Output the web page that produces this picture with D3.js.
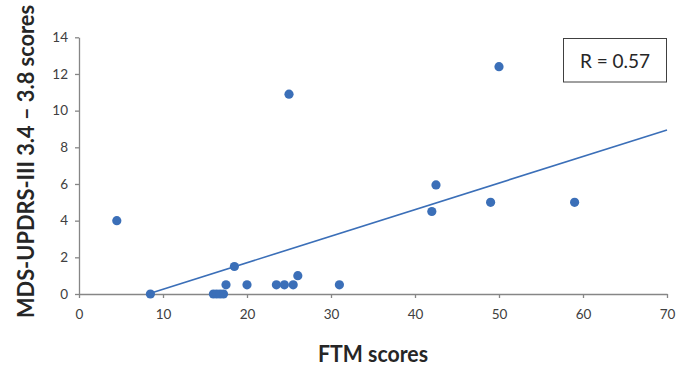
<!DOCTYPE html>
<html>
<head>
<meta charset="utf-8">
<script src="https://cdn.jsdelivr.net/npm/d3@7"></script>
<style>
  html, body { margin: 0; padding: 0; background: #fff; }
  svg { display: block; }
  text { font-family: Lato, "Open Sans", sans-serif; }
</style>
</head>
<body>
<svg id="chart" width="676" height="365"></svg>
<script>
// FTM scores (x) and MDS-UPDRS-III 3.4–3.8 scores (y)
const ftmScores = [4.5, 8.5, 16.0, 16.4, 16.8, 17.2, 17.5, 18.5, 20.0, 23.5, 24.45, 25.5, 26.05, 25.0, 31.0, 42.0, 42.5, 49.0, 50.0, 59.0];
const updrsScores = [4.0, 0, 0, 0, 0, 0, 0.5, 1.5, 0.5, 0.5, 0.5, 0.5, 1.0, 10.9, 0.5, 4.5, 5.95, 5.0, 12.4, 5.0];
// linear trendline endpoints
const trendX = [8.5, 70];
const trendY = [0.04, 8.95];
const xTicks = [0, 10, 20, 30, 40, 50, 60, 70];
const yTicks = [0, 2, 4, 6, 8, 10, 12, 14];
const rLabel = "R = 0.57";
const xTitle = "FTM scores";
const yTitle = "MDS-UPDRS-III 3.4 \u2013 3.8 scores";

const svg = d3.select("#chart");
const mLeft = 79, mRight = 667, mTop = 37.3, mBottom = 294;
const x = d3.scaleLinear().domain([0, 70]).range([mLeft, mRight]);
const y = d3.scaleLinear().domain([0, 14]).range([mBottom, mTop]);

const axisColor = "#868686";
const labelColor = "#404040";
const blue = "#3b6fb8";

// X axis
const gx = svg.append("g").attr("transform", `translate(0,${mBottom})`)
  .call(d3.axisBottom(x).tickValues(xTicks).tickSize(4).tickPadding(11).tickSizeOuter(0));
// Y axis
const gy = svg.append("g").attr("transform", `translate(${mLeft},0)`)
  .call(d3.axisLeft(y).tickValues(yTicks).tickSize(4).tickPadding(7).tickSizeOuter(0));
[gx, gy].forEach(g => {
  g.select(".domain").attr("stroke", axisColor).attr("stroke-width", 1.3);
  g.selectAll(".tick line").attr("stroke", axisColor).attr("stroke-width", 1.3);
  g.selectAll(".tick text").attr("fill", labelColor).style("font-size", "13.5px")
    .style("font-family", "Lato, sans-serif");
});

// trendline
svg.append("line")
  .attr("x1", x(trendX[0])).attr("y1", y(trendY[0]))
  .attr("x2", x(trendX[1])).attr("y2", y(trendY[1]))
  .attr("stroke", blue).attr("stroke-width", 1.6);

// points
svg.append("g").selectAll("circle")
  .data(ftmScores.map((v, i) => [v, updrsScores[i]]))
  .join("circle")
  .attr("cx", d => x(d[0])).attr("cy", d => y(d[1]))
  .attr("r", 4.6).attr("fill", blue);

// R box
svg.append("rect").attr("x", 563.5).attr("y", 38.5).attr("width", 103).attr("height", 43.5)
  .attr("fill", "#fff").attr("stroke", "#404040").attr("stroke-width", 1);
svg.append("text").attr("x", 615).attr("y", 67.5).attr("text-anchor", "middle")
  .attr("fill", "#262626").style("font-size", "19px").text(rLabel);

// Axis titles
svg.append("text").attr("x", 373).attr("y", 361.5).attr("text-anchor", "middle")
  .attr("textLength", 110).attr("lengthAdjust", "spacingAndGlyphs")
  .attr("fill", "#262626").style("font-size", "22px").style("font-weight", "bold").text(xTitle);
svg.append("text").attr("transform", "translate(34,161.5) rotate(-90)").attr("text-anchor", "middle")
  .attr("textLength", 313).attr("lengthAdjust", "spacingAndGlyphs")
  .attr("fill", "#262626").style("font-size", "22px").style("font-weight", "bold").text(yTitle);
</script>
</body>
</html>
